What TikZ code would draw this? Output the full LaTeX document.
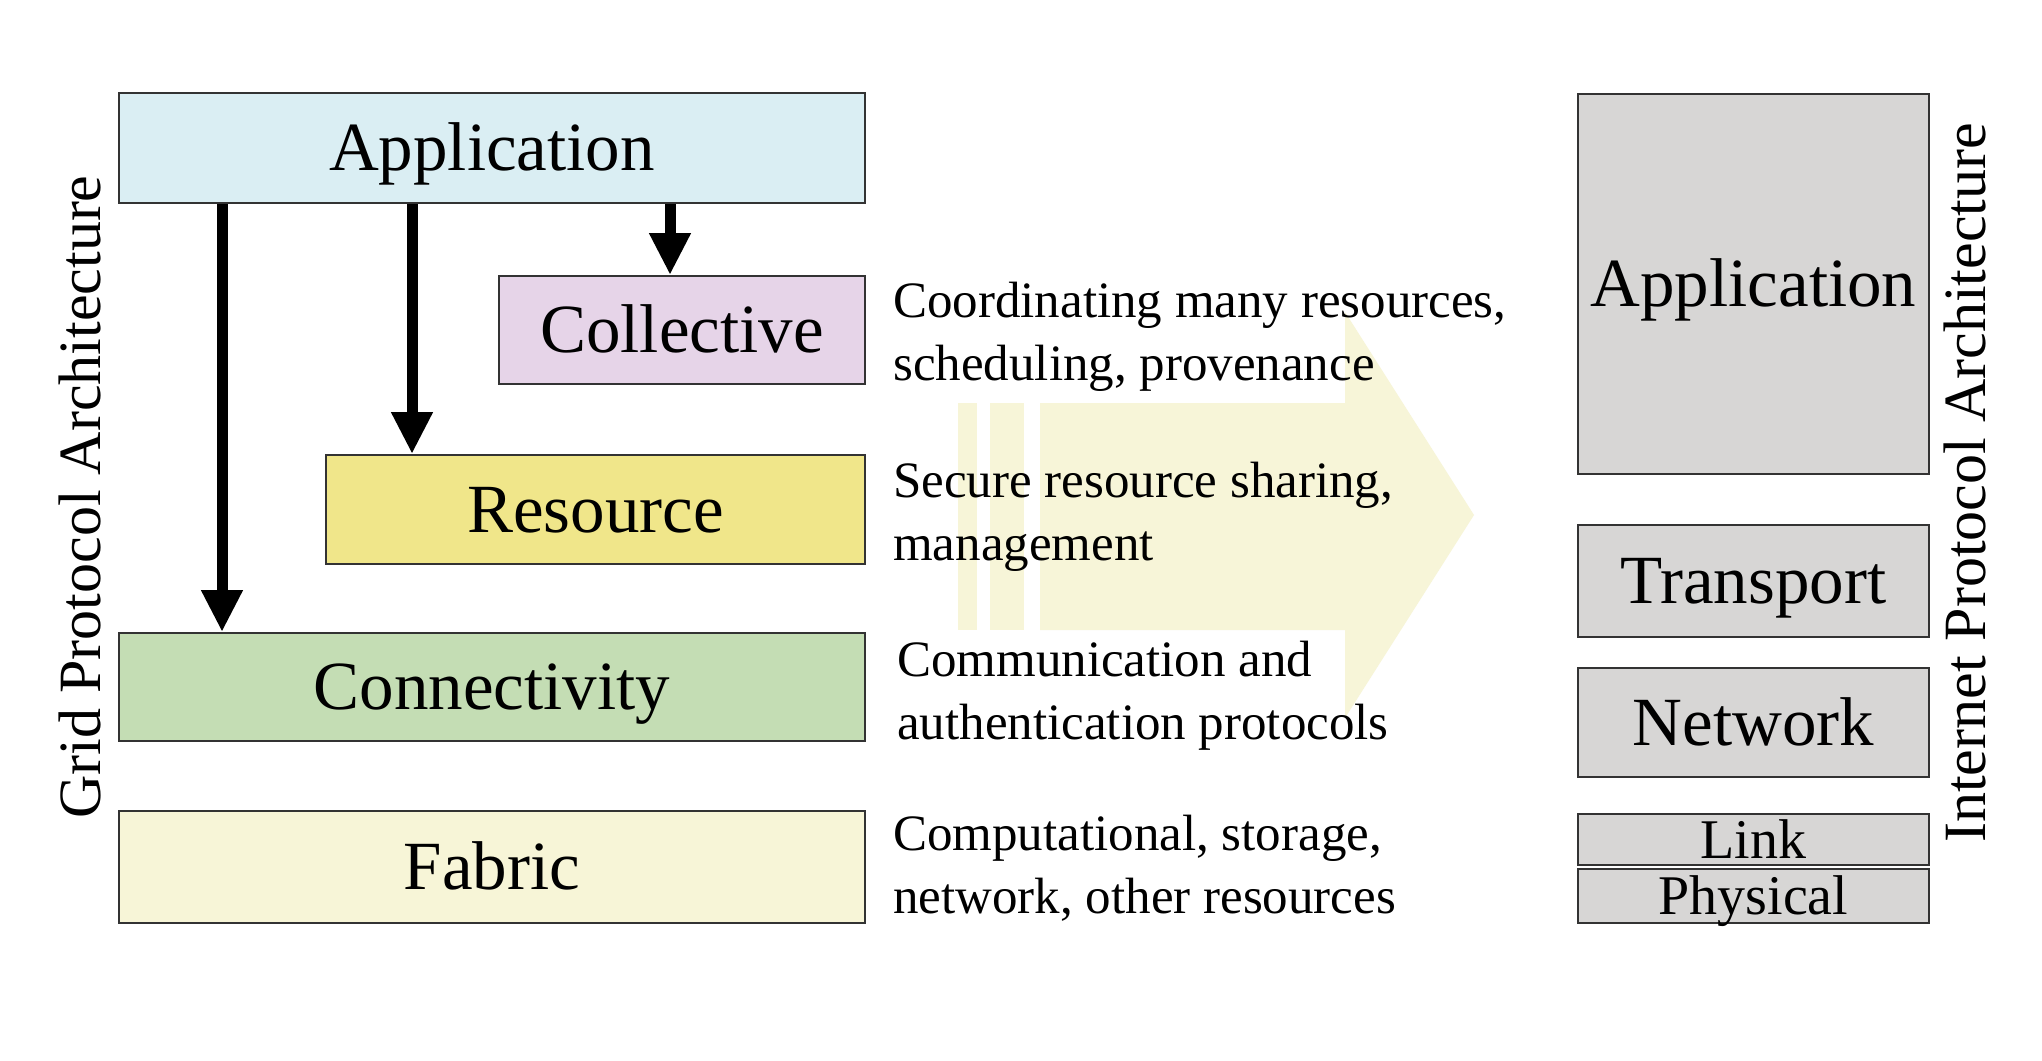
\documentclass[tikz,border=0pt]{standalone}
\usepackage{fontspec}
\setmainfont{Liberation Serif}
\usetikzlibrary{arrows.meta}
\definecolor{cApp}{HTML}{DAEEF3}
\definecolor{cColl}{HTML}{E6D4E8}
\definecolor{cRes}{HTML}{F0E68A}
\definecolor{cConn}{HTML}{C4DDB4}
\definecolor{cFab}{HTML}{F7F5D7}
\definecolor{cGrey}{HTML}{D7D6D5}
\definecolor{cBig}{HTML}{F7F5D8}
\definecolor{cLine}{HTML}{333333}
\tikzset{
  layer/.style={draw=cLine, line width=2pt, inner sep=0pt, align=center,
    text height=62pt, text depth=16.5pt, font=\fontsize{69}{80}\selectfont},
  smalllayer/.style={layer, text height=40pt, text depth=3pt, font=\fontsize{56}{64}\selectfont},
  desc/.style={anchor=base west, inner sep=0pt, font=\fontsize{51}{60}\selectfont},
  sidelabel/.style={rotate=90, anchor=base, inner sep=0pt, font=\fontsize{60}{68}\selectfont},
  downarr/.style={line width=11pt, -{Triangle[length=42pt,width=39pt]}},
  bigarrow/.style={fill=cBig}
}
\begin{document}
\begin{tikzpicture}[x=1pt,y=-1pt]
\useasboundingbox (0,0) rectangle (2042,1060);
\fill[white] (0,0) rectangle (2042,1060);
% big arrow
\fill[bigarrow] (1040,403) -- (1345,403) -- (1345,312) -- (1474,515) -- (1345,718) -- (1345,630) -- (1040,630) -- cycle;
\fill[bigarrow] (958,403) rectangle (976.5,630);
\fill[bigarrow] (990,403) rectangle (1024,630);
% grid layers
\node[layer, fill=cApp, minimum width=746pt, minimum height=110pt] (gapp) at (492,148) {Application};
\node[layer, fill=cColl, minimum width=366pt, minimum height=108pt] (coll) at (682,330) {Collective};
\node[layer, fill=cRes, minimum width=539pt, minimum height=109pt] (res) at (595.5,509.5) {Resource};
\node[layer, fill=cConn, minimum width=746pt, minimum height=108pt] (conn) at (492,687) {Connectivity};
\node[layer, fill=cFab, minimum width=746pt, minimum height=112pt] (fab) at (492,867) {Fabric};
% arrows
\coordinate (a1) at (222,0);
\coordinate (a2) at (412,0);
\coordinate (a3) at (670,0);
\draw[downarr] (gapp.south -| a1) -- (conn.north -| a1);
\draw[downarr] (gapp.south -| a2) -- (res.north -| a2);
\draw[downarr] (gapp.south -| a3) -- (coll.north -| a3);
% descriptions
\node[desc] (d1a) at (893,317) {Coordinating many resources,};
\node[desc] (d1b) at (893,380) {scheduling, provenance};
\node[desc] (d2a) at (893,497) {Secure resource sharing,};
\node[desc] (d2b) at (893,560) {management};
\node[desc] (d3a) at (897,676) {Communication and};
\node[desc] (d3b) at (897,739) {authentication protocols};
\node[desc] (d4a) at (893,850) {Computational, storage,};
\node[desc] (d4b) at (893,913) {network, other resources};
% internet layers
\node[layer, fill=cGrey, minimum width=351pt, minimum height=380pt] (iapp) at (1753.5,284) {Application};
\node[layer, fill=cGrey, minimum width=351pt, minimum height=112pt] (trans) at (1753.5,581) {Transport};
\node[layer, fill=cGrey, minimum width=351pt, minimum height=109pt] (net) at (1753.5,722.5) {Network};
\node[smalllayer, fill=cGrey, minimum width=351pt, minimum height=51pt] (link) at (1753.5,839.5) {Link};
\node[smalllayer, fill=cGrey, minimum width=351pt, minimum height=54pt] (phys) at (1753.5,896) {Physical};
% side labels
\node[sidelabel] (glabel) at (100,497) {Grid Protocol Architecture};
\node[sidelabel] (ilabel) at (1985,483) {Internet Protocol Architecture};
\end{tikzpicture}
\end{document}
